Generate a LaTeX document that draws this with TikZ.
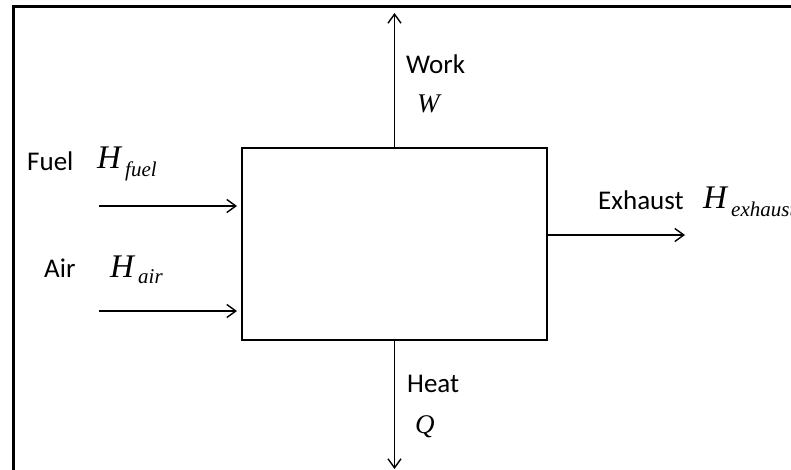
\documentclass[tikz,border=0pt]{standalone}
\usepackage{fontspec}
\setmainfont{Carlito}
\newfontfamily\varfont{Liberation Serif}
\usetikzlibrary{arrows.meta}
\tikzset{
  flow/.style={line width=1.4pt,-{Straight Barb[length=9pt,width=13pt]}},
  lbl/.style={anchor=base west,inner sep=0pt,font=\fontsize{27}{32}\selectfont},
  bigvar/.style={anchor=base west,inner sep=0pt,font=\varfont\itshape\fontsize{33}{38}\selectfont},
  smallvar/.style={anchor=base west,inner sep=0pt,font=\varfont\itshape\fontsize{27}{32}\selectfont},
  subvar/.style={anchor=base west,inner sep=0pt,font=\varfont\itshape\fontsize{21}{25}\selectfont},
  sysbox/.style={draw,line width=2pt,minimum width=305pt,minimum height=192pt,inner sep=0pt}
}
\begin{document}
\begin{tikzpicture}[x=1pt,y=-1pt]
\useasboundingbox (0,0) rectangle (791,470);
% frame
\draw[line width=3.2pt] (13.5,470) -- (13.5,6.5) -- (791,6.5);
% system box
\node[sysbox] (sys) at (394.5,244) {};
% end points
\coordinate (fuelS) at (99,206);
\coordinate (airS) at (99,311);
\coordinate (exE) at (685,235);
\coordinate (workE) at (394.5,13);
\coordinate (heatE) at (394.5,469);
% connectors
\draw[flow,shorten >=4pt] (fuelS) -- (fuelS -| sys.west);
\draw[flow,shorten >=4pt] (airS) -- (airS -| sys.west);
\draw[flow] (exE -| sys.east) -- (exE);
\draw[flow] (sys.north) -- (workE);
\draw[flow] (sys.south) -- (heatE);
% labels
\node[lbl] (fuelT) at (27,171) {Fuel};
\node[bigvar] (fuelH) at (97,169) {H};
\node[subvar] (fuelSub) at (125,177) {fuel};
\node[lbl] (airT) at (44,277) {Air};
\node[bigvar] (airH) at (110,277) {H};
\node[subvar] (airSub) at (138,283) {air};
\node[lbl] (workT) at (406,74) {Work};
\node[smallvar] (workW) at (417,113) {W};
\node[lbl] (heatT) at (407,392) {Heat};
\node[smallvar] (heatQ) at (415,433) {Q};
\node[lbl] (exT) at (598,209) {Exhaust};
\node[bigvar] (exH) at (703,208) {H};
\node[subvar] (exSub) at (731,216) {exhaust};
\end{tikzpicture}
\end{document}
